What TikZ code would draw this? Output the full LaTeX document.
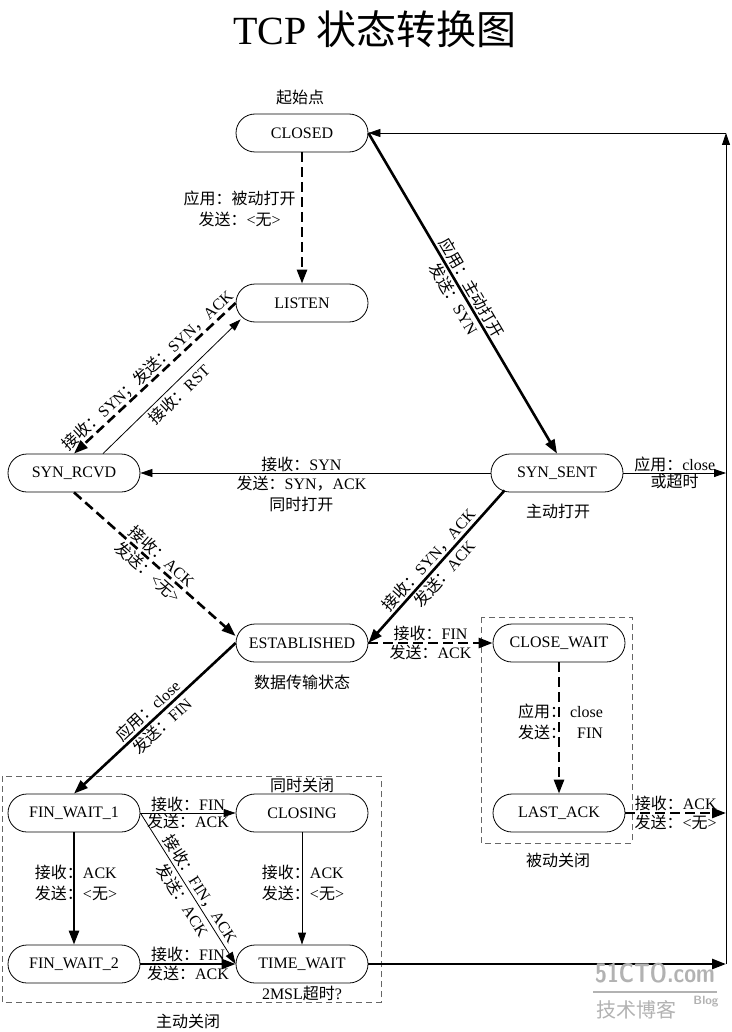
\documentclass[tikz,border=0pt]{standalone}
\usepackage{graphicx}
\usepackage{fontspec}
\setmainfont{Liberation Serif}
\newfontfamily\cjk{Noto Sans CJK SC}
\usetikzlibrary{arrows.meta,calc}
\newcommand\zh[1]{{\cjk #1}}
\begin{document}
\begin{tikzpicture}[x=1pt,y=-1pt,
  state/.style={draw,line width=0.8pt,rounded corners=19pt,minimum width=132pt,minimum height=38pt,inner sep=0pt,font=\fontsize{16}{18}\selectfont},
  lbl/.style={font=\fontsize{16}{21}\selectfont,align=center,inner sep=1pt},
  tab/.style={font=\fontsize{16}{21}\selectfont,inner sep=0pt},
  thk/.style={line width=2.6pt,-{Triangle[length=14pt,width=10pt]}},
  thn/.style={line width=0.8pt,-{Triangle[length=12pt,width=8pt]}},
  dsh/.style={dash pattern=on 10pt off 5pt},
  grpbox/.style={draw=black!60,line width=0.9pt,dash pattern=on 6pt off 4pt},
  wmark/.style={text=black!30,inner sep=0pt}
]
\useasboundingbox (0,0) rectangle (731,1032);
\fill[white] (0,0) rectangle (731,1032);

% title
\node[font=\fontsize{40}{44}\selectfont] (title) at (375,29) {TCP \zh{状态转换图}};

% states
\node[state] (closed)    at (302,133) {CLOSED};
\node[state] (listen)    at (302,303) {LISTEN};
\node[state] (synrcvd)   at (74,473)  {SYN\_RCVD};
\node[state] (synsent)   at (557,473) {SYN\_SENT};
\node[state] (established) at (302,643) {ESTABLISHED};
\node[state] (closewait) at (559,643) {CLOSE\_WAIT};
\node[state] (lastack)   at (559,813) {LAST\_ACK};
\node[state] (finwait1)  at (74,813)  {FIN\_WAIT\_1};
\node[state] (closing)   at (302,813) {CLOSING};
\node[state] (finwait2)  at (74,964)  {FIN\_WAIT\_2};
\node[state] (timewait)  at (302,964) {TIME\_WAIT};

% group boxes
\draw[grpbox] (2,776) rectangle (381,1002);
\draw[grpbox] (481,617) rectangle (632,843);

% annotations
\node[lbl] (start)    at (300,97)   {\zh{起始点}};
\node[lbl] (actopen)  at (558,511)  {\zh{主动打开}};
\node[lbl] (datatx)   at (302,682)  {\zh{数据传输状态}};
\node[lbl] (simclose) at (302,785)  {\zh{同时关闭}};
\node[lbl] (msl)      at (302,993)  {2MSL\zh{超时}?};
\node[lbl] (passive)  at (558,860)  {\zh{被动关闭}};
\node[lbl] (active)   at (188,1021) {\zh{主动关闭}};

\coordinate (R) at (726,473);

% transitions
\draw[thk] (closed.east) -- node[lbl,sloped,midway] {\zh{应用：主动打开}\\\zh{发送：}SYN} (synsent.north);
\draw[thk,dsh] (closed.south) -- node[lbl,left,pos=0.43,inner sep=5pt] {\zh{应用：被动打开}\\\zh{发送：}<\zh{无}>} (listen.north);
\draw[thk,dsh] (listen.west) -- node[lbl,sloped,above,midway] {\zh{接收：}SYN\zh{；发送：}SYN\zh{，}ACK} (synrcvd.north);
\draw[thn] ([xshift=29pt]synrcvd.north) -- node[lbl,sloped,below,midway,inner sep=3pt] {\zh{接收：}RST} ([xshift=5pt,yshift=3pt]listen.south west);
\draw[thn] (synsent.west) -- node[lbl,above,pos=0.54] {\zh{接收：}SYN} node[lbl,below,pos=0.54,inner sep=3pt] {\zh{发送：}SYN\zh{，}ACK\\\zh{同时打开}} (synrcvd.east);
\draw[thk,dsh] (synrcvd.south) -- node[lbl,sloped,midway] {\zh{接收：}ACK\\\zh{发送：}<\zh{无}>} ([yshift=7pt]established.west);
\draw[thk] ([xshift=14pt,yshift=2pt]synsent.south west) -- node[lbl,sloped,midway] {\zh{接收：}SYN\zh{，}ACK\\\zh{发送：}ACK} (established.east);
\draw[thk,dsh] (established.east) -- node[lbl,above,midway] {\zh{接收：}FIN} node[lbl,below,midway] {\zh{发送：}ACK} (closewait.west);
\draw[thk] (established.west) -- node[lbl,sloped,midway] {\zh{应用：}close\\\zh{发送：}FIN} (finwait1.north);
\draw[thk,dsh] (closewait.south) -- node[tab,pos=0.47,xshift=1.5pt] {\begin{tabular}{@{}l@{\hspace{4pt}}r@{}}\zh{应用：}&close\\\zh{发送：}&FIN\end{tabular}} (lastack.north);
\draw[thn] (synsent.east) -- node[lbl,above,midway] {\zh{应用：}close} node[lbl,below,midway] {\zh{或超时}} (synsent.east -| R);
\draw[thk,dsh] (lastack.east) -- node[lbl,above,midway] {\zh{接收：}ACK} node[lbl,below,midway] {\zh{发送：}<\zh{无}>} (lastack.east -| R);
\draw[thk] (timewait.east) -- (timewait.east -| R);
\draw[thn] (timewait.east -| R) -- (closed.east -| R);
\draw[thn] (closed.east -| R) -- (closed.east);
\draw[thn] (finwait1.east) -- node[lbl,above,midway] {\zh{接收：}FIN} node[lbl,below,midway] {\zh{发送：}ACK} (closing.west);
\draw[thn] (finwait1.east) -- node[lbl,sloped,pos=0.54] {\zh{接收：}FIN\zh{，}ACK\\\zh{发送：}ACK} (timewait.west);
\draw[thk] (finwait1.south) -- node[tab,pos=0.465,xshift=2pt] {\begin{tabular}{@{}l@{}l@{}}\zh{接收：}&ACK\\\zh{发送：}&<\zh{无}>\end{tabular}} (finwait2.north);
\draw[thn] (closing.south) -- node[tab,pos=0.465,xshift=1pt] {\begin{tabular}{@{}l@{}l@{}}\zh{接收：}&ACK\\\zh{发送：}&<\zh{无}>\end{tabular}} (timewait.north);
\draw[thk] (finwait2.east) -- node[lbl,above,midway] {\zh{接收：}FIN} node[lbl,below,midway] {\zh{发送：}ACK} (timewait.west);

% watermark
\node[wmark,font=\fontsize{27}{27}\sffamily\bfseries] (wm1) at (655,973) {\scalebox{0.8}[1]{51CTO.com}};
\draw[black!30,line width=1.5pt] (593,992) -- (717,992);
\node[wmark,font=\fontsize{20}{20}\selectfont] (wm2) at (636,1010) {\zh{技术博客}};
\node[wmark,font=\fontsize{12}{12}\sffamily\bfseries] (wm3) at (706,1002) {Blog};
\end{tikzpicture}
\end{document}
